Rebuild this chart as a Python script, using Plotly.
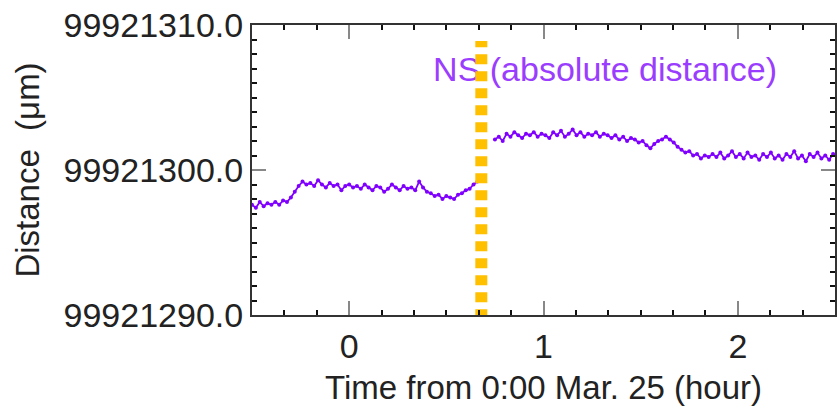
import plotly.graph_objects as go

BASE = 99921000.0

# Segment 1 (before the event), hours from 0:00 Mar. 25, sampled every 0.02 h
seg1_start, seg1_step = -0.50, 0.02
seg1_vals = [297.6, 297.4, 297.8, 297.5, 297.7, 297.6, 297.8, 297.6, 297.9, 297.8,
             298.1, 298.5, 298.9, 299.2, 299.0, 299.1, 298.9, 299.3, 299.0, 298.8,
             299.1, 298.9, 299.0, 298.6, 298.9, 299.0, 298.8, 298.9, 298.7, 299.0,
             298.8, 298.6, 298.9, 298.8, 298.5, 298.7, 299.0, 298.8, 298.6, 298.9,
             298.7, 298.8, 298.6, 299.2, 298.8, 298.5, 298.4, 298.2, 298.3, 298.0,
             298.2, 298.1, 298.0, 298.3, 298.4, 298.6, 298.7, 299.0, 299.2]

# Segment 2 (after the event)
seg2_start, seg2_step = 0.75, 0.02
seg2_vals = [302.1, 302.3, 302.0, 302.5, 302.3, 302.6, 302.4, 302.2, 302.5, 302.4,
             302.6, 302.3, 302.5, 302.4, 302.2, 302.6, 302.4, 302.7, 302.3, 302.5,
             302.8, 302.4, 302.6, 302.3, 302.5, 302.4, 302.6, 302.3, 302.5, 302.4,
             302.2, 302.4, 302.1, 302.3, 302.0, 302.2, 302.1, 301.9, 302.0, 301.7,
             301.5, 301.8, 302.0, 302.1, 302.3, 302.1, 301.9, 301.6, 301.4, 301.2,
             301.3, 301.0, 301.1, 300.8, 301.0, 300.9, 301.1, 300.9, 301.2, 300.8,
             301.0, 301.3, 300.9, 301.1, 300.8, 301.2, 300.9, 301.0, 300.7, 301.1,
             300.9, 301.2, 300.8, 301.0, 300.7, 301.1, 300.9, 301.3, 300.8, 301.0,
             300.6, 301.1, 300.9, 301.2, 300.8, 301.0, 300.7, 301.1]

event_time = 0.68
x_range = [-0.5, 2.5]
y_range = [99921290.0, 99921310.0]
y_ticks = [99921290.0, 99921300.0, 99921310.0]
x_ticks = [0, 1, 2]
label_text = "NS (absolute distance)"
label_pos = (1.317, 99921306.75)

t1 = [round(seg1_start + i * seg1_step, 4) for i in range(len(seg1_vals))]
t2 = [round(seg2_start + i * seg2_step, 4) for i in range(len(seg2_vals))]
y1 = [BASE + v for v in seg1_vals]
y2 = [BASE + v for v in seg2_vals]

PURPLE = "#8000ff"
FONT = "Liberation Sans, Arial, sans-serif"

fig = go.Figure()
for t, y in [(t1, y1), (t2, y2)]:
    fig.add_trace(go.Scatter(x=t, y=y, mode="lines+markers",
                             line=dict(color=PURPLE, width=1.8),
                             marker=dict(color=PURPLE, size=4),
                             showlegend=False, hoverinfo="skip"))
fig.add_trace(go.Scatter(x=[label_pos[0]], y=[label_pos[1]], mode="text",
                         text=[label_text],
                         textfont=dict(family=FONT, size=34, color="#9a3dff"),
                         showlegend=False, hoverinfo="skip"))
fig.add_trace(go.Scatter(x=[event_time, event_time], y=[y_range[0] - 0.3, y_range[1] - 1.1],
                         mode="lines", cliponaxis=False,
                         line=dict(color="#ffc000", width=12, dash="10px,7px"),
                         showlegend=False, hoverinfo="skip"))

axis_common = dict(showgrid=False, zeroline=False, showline=True, linecolor="#333",
                   linewidth=2, mirror="ticks", ticks="inside", ticklen=14,
                   tickcolor="#888", tickwidth=2, automargin=False,
                   tickfont=dict(family=FONT, size=34, color="#222"))

fig.update_xaxes(range=x_range, tickvals=x_ticks, **axis_common,
                 minor=dict(dtick=1/6, ticks="inside", ticklen=5, tickcolor="#111", tickwidth=2),
                 title=dict(text="Time from 0:00 Mar. 25 (hour)",
                            font=dict(family=FONT, size=33, color="#222"), standoff=12))
fig.update_yaxes(range=y_range, tickvals=y_ticks, tickformat=".1f", **axis_common,
                 minor=dict(dtick=1, ticks="inside", ticklen=5, tickcolor="#111", tickwidth=2),
                 title=dict(text="Distance  (μm)",
                            font=dict(family=FONT, size=33, color="#222"), standoff=14))

fig.update_layout(width=838, height=410, margin=dict(l=252, r=3, t=25, b=95),
                  paper_bgcolor="white", plot_bgcolor="white")

fig.write_html("out.html", config={"displayModeBar": False},
               post_script="document.body.style.margin='0';document.body.style.overflow='hidden';")
